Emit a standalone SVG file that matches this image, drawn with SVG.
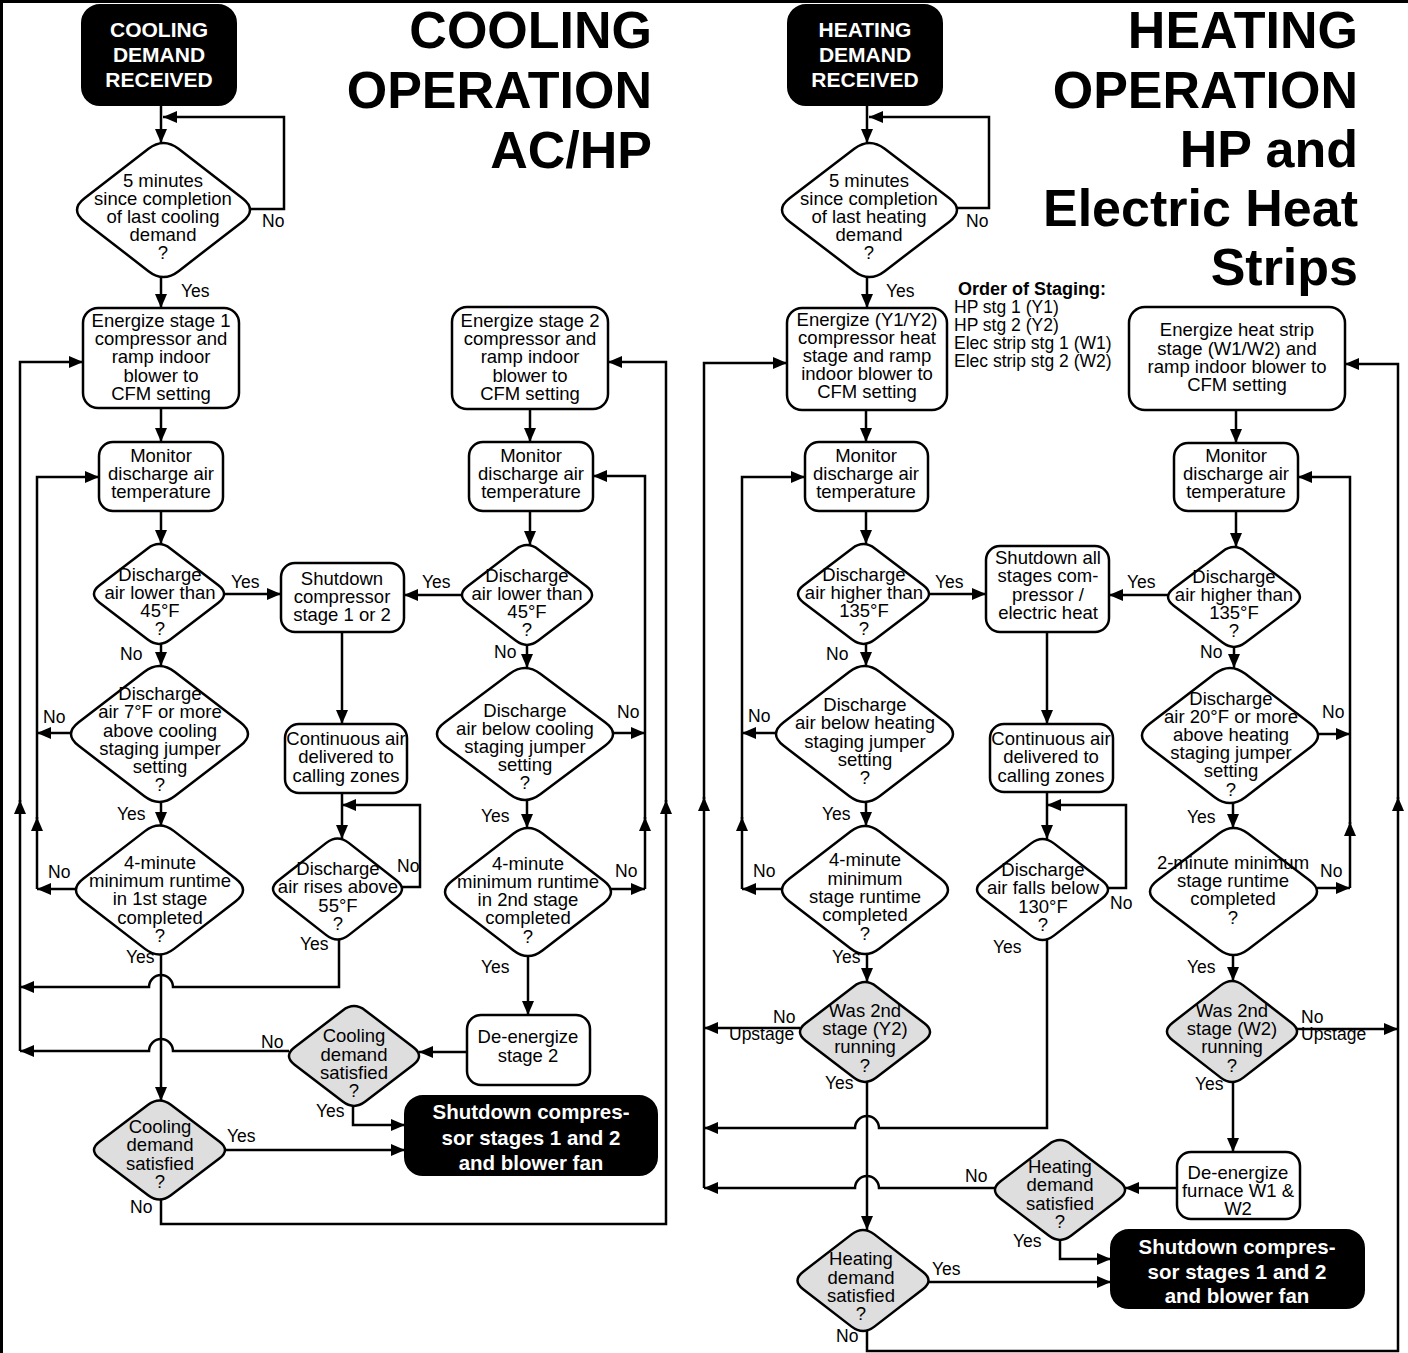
<svg xmlns="http://www.w3.org/2000/svg" xmlns:xlink="http://www.w3.org/1999/xlink" width="1408" height="1353" viewBox="0 0 1408 1353">
<style>
.n{fill:#fff;stroke:#000;stroke-width:2.5}
.g{fill:#dedede;stroke:#000;stroke-width:2.5}
.k{fill:#000;stroke:#000;stroke-width:2}
text{font-family:"Liberation Sans",Arial,Helvetica,sans-serif;fill:#000}
.t{font-size:18.5px;text-anchor:middle}
.w{font-size:20.5px;font-weight:bold;text-anchor:middle;fill:#fff}
.s{font-size:21px;font-weight:bold;text-anchor:middle;fill:#fff}
.l{font-size:17.5px}
.h{font-size:52px;font-weight:bold;text-anchor:end}
.os{font-size:17.5px}
.c{fill:none;stroke:#000;stroke-width:2.5;marker-end:url(#ah)}
</style>
<defs>
<marker id="ah" markerUnits="userSpaceOnUse" markerWidth="14" markerHeight="12" viewBox="0 0 14 12" refX="14" refY="6" orient="auto"><path d="M0,0 L14,6 L0,12 z" fill="#000"/></marker>
<path id="dm" vector-effect="non-scaling-stroke" d="M0.16,-0.84 L0.84,-0.16 Q1,0 0.84,0.16 L0.16,0.84 Q0,1 -0.16,0.84 L-0.84,0.16 Q-1,0 -0.84,-0.16 L-0.16,-0.84 Q0,-1 0.16,-0.84 Z"/>
</defs>
<rect width="1408" height="1353" fill="#fff"/>
<path d="M1.5,1353 V1.5 H1408" fill="none" stroke="#000" stroke-width="3"/>

<!-- Titles -->
<g id="title-cooling">
<text class="h" x="652" y="48">COOLING</text>
<text class="h" x="652" y="108">OPERATION</text>
<text class="h" x="652" y="168">AC/HP</text>
</g>
<g id="title-heating">
<text class="h" x="1358" y="48">HEATING</text>
<text class="h" x="1358" y="108">OPERATION</text>
<text class="h" x="1358" y="167">HP and</text>
<text class="h" x="1358" y="226">Electric Heat</text>
<text class="h" x="1358" y="285">Strips</text>
</g>
<g id="staging-note">
<text class="os" x="958" y="295" font-weight="bold" font-size="18px" style="font-size:18px">Order of Staging:</text>
<text class="os" x="954" y="313">HP stg 1 (Y1)</text>
<text class="os" x="954" y="331">HP stg 2 (Y2)</text>
<text class="os" x="954" y="349">Elec strip stg 1 (W1)</text>
<text class="os" x="954" y="367">Elec strip stg 2 (W2)</text>
</g>

<!-- Connectors -->
<g id="connectors">
<!-- cooling -->
<path class="c" d="M161,105 V143"/>
<path class="c" d="M249,209 H284 V117 H163"/>
<path class="c" d="M161,277 V308"/>
<path class="c" d="M161,408 V442"/>
<path class="c" d="M161,511 V544"/>
<path class="c" d="M225,594 H281"/>
<path class="c" d="M161,644 V666"/>
<path class="c" d="M71,733 H37"/>
<path class="c" d="M161,802 V826"/>
<path class="c" d="M76,889 H37"/>
<path class="c" d="M37,889 V817"/>
<path class="c" d="M37,819 V477 H99"/>
<path class="c" d="M161,955 V1101"/>
<path class="c" d="M339,940 V987 H173 A12,12 0 0 0 149,987 H20"/>
<path class="c" d="M289,1051 H173 A12,12 0 0 0 149,1051 H20"/>
<path class="c" d="M20,1051 V800"/>
<path class="c" d="M20,802 V362 H83"/>
<path class="c" d="M225,1150 H405"/>
<path class="c" d="M161,1200 V1224 H666 V800"/>
<path class="c" d="M666,802 V362 H608"/>
<path class="c" d="M342,632 V724"/>
<path class="c" d="M342,793 V839"/>
<path class="c" d="M402,887 H420 V805 H342"/>
<path class="c" d="M530,409 V442"/>
<path class="c" d="M530,511 V545"/>
<path class="c" d="M462,595 H404"/>
<path class="c" d="M527,645 V668"/>
<path class="c" d="M613,733 H645"/>
<path class="c" d="M527,800 V828"/>
<path class="c" d="M611,889 H645"/>
<path class="c" d="M645,889 V817"/>
<path class="c" d="M645,819 V476 H593"/>
<path class="c" d="M528,956 V1015"/>
<path class="c" d="M467,1052 H419"/>
<path class="c" d="M353,1106 V1125 H405"/>
<!-- heating -->
<path class="c" d="M867,105 V143"/>
<path class="c" d="M957,208 H989 V117 H869"/>
<path class="c" d="M867,277 V308"/>
<path class="c" d="M866,410 V442"/>
<path class="c" d="M866,511 V544"/>
<path class="c" d="M929,594 H986"/>
<path class="c" d="M866,643 V666"/>
<path class="c" d="M776,733 H742"/>
<path class="c" d="M866,802 V826"/>
<path class="c" d="M782,889 H742"/>
<path class="c" d="M742,889 V817"/>
<path class="c" d="M742,819 V477 H805"/>
<path class="c" d="M867,954 V982"/>
<path class="c" d="M800,1028 H704"/>
<path class="c" d="M867,1082 V1230"/>
<path class="c" d="M1047,940 V1128 H879 A12,12 0 0 0 855,1128 H704"/>
<path class="c" d="M995,1188 H879 A12,12 0 0 0 855,1188 H704"/>
<path class="c" d="M704,1188 V797"/>
<path class="c" d="M704,799 V363 H787"/>
<path class="c" d="M1047,632 V724"/>
<path class="c" d="M1047,792 V839"/>
<path class="c" d="M1108,888 H1126 V805 H1047"/>
<path class="c" d="M1060,1240 V1259 H1111"/>
<path class="c" d="M928,1282 H1111"/>
<path class="c" d="M867,1331 V1351 H1398 V797"/>
<path class="c" d="M1398,799 V364 H1345"/>
<path class="c" d="M1236,410 V443"/>
<path class="c" d="M1236,511 V547"/>
<path class="c" d="M1168,595 H1109"/>
<path class="c" d="M1234,647 V668"/>
<path class="c" d="M1318,734 H1350"/>
<path class="c" d="M1233,803 V828"/>
<path class="c" d="M1317,888 H1350"/>
<path class="c" d="M1350,888 V822"/>
<path class="c" d="M1350,824 V477 H1298"/>
<path class="c" d="M1233,955 V981"/>
<path class="c" d="M1297,1029 H1398"/>
<path class="c" d="M1233,1082 V1152"/>
<path class="c" d="M1177,1188 H1125"/>
</g>

<!-- Connector labels -->
<g id="labels" class="l">
<text x="262" y="227">No</text>
<text x="181" y="297">Yes</text>
<text x="231" y="588">Yes</text>
<text x="120" y="660">No</text>
<text x="43" y="723">No</text>
<text x="117" y="820">Yes</text>
<text x="48" y="878">No</text>
<text x="126" y="963">Yes</text>
<text x="422" y="588">Yes</text>
<text x="494" y="658">No</text>
<text x="617" y="718">No</text>
<text x="481" y="822">Yes</text>
<text x="615" y="877">No</text>
<text x="481" y="973">Yes</text>
<text x="397" y="872">No</text>
<text x="300" y="950">Yes</text>
<text x="261" y="1048">No</text>
<text x="316" y="1117">Yes</text>
<text x="227" y="1142">Yes</text>
<text x="130" y="1213">No</text>

<text x="966" y="227">No</text>
<text x="886" y="297">Yes</text>
<text x="935" y="588">Yes</text>
<text x="826" y="660">No</text>
<text x="748" y="722">No</text>
<text x="822" y="820">Yes</text>
<text x="753" y="877">No</text>
<text x="832" y="963">Yes</text>
<text x="773" y="1023">No</text>
<text x="729" y="1040">Upstage</text>
<text x="825" y="1089">Yes</text>
<text x="993" y="953">Yes</text>
<text x="1110" y="909">No</text>
<text x="965" y="1182">No</text>
<text x="1013" y="1247">Yes</text>
<text x="932" y="1275">Yes</text>
<text x="836" y="1342">No</text>
<text x="1127" y="588">Yes</text>
<text x="1200" y="658">No</text>
<text x="1322" y="718">No</text>
<text x="1187" y="823">Yes</text>
<text x="1320" y="877">No</text>
<text x="1187" y="973">Yes</text>
<text x="1301" y="1023">No</text>
<text x="1301" y="1040">Upstage</text>
<text x="1195" y="1090">Yes</text>
</g>

<!-- Cooling nodes -->
<g id="c-start">
<rect class="k" x="82" y="5" width="154" height="100" rx="18"/>
<text class="s" x="159" y="37">COOLING</text>
<text class="s" x="159" y="62">DEMAND</text>
<text class="s" x="159" y="87">RECEIVED</text>
</g>
<g id="c-wait">
<use href="#dm" class="n" transform="translate(163.5 210) scale(94 72.8)"/>
<text class="t" x="163" y="187">5 minutes</text>
<text class="t" x="163" y="205">since completion</text>
<text class="t" x="163" y="223">of last cooling</text>
<text class="t" x="163" y="241">demand</text>
<text class="t" x="163" y="259">?</text>
</g>
<g id="c-energize1">
<rect class="n" x="83" y="308" width="156" height="100" rx="15"/>
<text class="t" x="161" y="327">Energize stage 1</text>
<text class="t" x="161" y="345">compressor and</text>
<text class="t" x="161" y="363">ramp indoor</text>
<text class="t" x="161" y="382">blower to</text>
<text class="t" x="161" y="400">CFM setting</text>
</g>
<g id="c-monitor1">
<rect class="n" x="99" y="442" width="124" height="69" rx="14"/>
<text class="t" x="161" y="462">Monitor</text>
<text class="t" x="161" y="480">discharge air</text>
<text class="t" x="161" y="498">temperature</text>
</g>
<g id="c-low1">
<use href="#dm" class="n" transform="translate(159 594) scale(70.7 54.3)"/>
<text class="t" x="160" y="581">Discharge</text>
<text class="t" x="160" y="599">air lower than</text>
<text class="t" x="160" y="617">45°F</text>
<text class="t" x="160" y="635">?</text>
</g>
<g id="c-7f">
<use href="#dm" class="n" transform="translate(159.5 734) scale(96.2 73.9)"/>
<text class="t" x="160" y="700">Discharge</text>
<text class="t" x="160" y="718">air 7°F or more</text>
<text class="t" x="160" y="737">above cooling</text>
<text class="t" x="160" y="755">staging jumper</text>
<text class="t" x="160" y="773">setting</text>
<text class="t" x="160" y="791">?</text>
</g>
<g id="c-4min1">
<use href="#dm" class="n" transform="translate(159.5 890) scale(90.8 70.1)"/>
<text class="t" x="160" y="869">4-minute</text>
<text class="t" x="160" y="887">minimum runtime</text>
<text class="t" x="160" y="905">in 1st stage</text>
<text class="t" x="160" y="924">completed</text>
<text class="t" x="160" y="942">?</text>
</g>
<g id="c-satisfied1">
<use href="#dm" class="g" transform="translate(159.5 1150) scale(71.2 53.8)"/>
<text class="t" x="160" y="1133">Cooling</text>
<text class="t" x="160" y="1151">demand</text>
<text class="t" x="160" y="1170">satisfied</text>
<text class="t" x="160" y="1188">?</text>
</g>
<g id="c-shutdown">
<rect class="n" x="281" y="563" width="123" height="69" rx="14"/>
<text class="t" x="342" y="585">Shutdown</text>
<text class="t" x="342" y="603">compressor</text>
<text class="t" x="342" y="621">stage 1 or 2</text>
</g>
<g id="c-continuous">
<rect class="n" x="285" y="724" width="122" height="69" rx="14"/>
<text class="t" x="346" y="745">Continuous air</text>
<text class="t" x="346" y="763">delivered to</text>
<text class="t" x="346" y="782">calling zones</text>
</g>
<g id="c-55f">
<use href="#dm" class="n" transform="translate(337.5 889) scale(70.1 54.9)"/>
<text class="t" x="338" y="875">Discharge</text>
<text class="t" x="338" y="893">air rises above</text>
<text class="t" x="338" y="912">55°F</text>
<text class="t" x="338" y="930">?</text>
</g>
<g id="c-satisfied2">
<use href="#dm" class="g" transform="translate(354 1056) scale(70.7 54.3)"/>
<text class="t" x="354" y="1042">Cooling</text>
<text class="t" x="354" y="1061">demand</text>
<text class="t" x="354" y="1079">satisfied</text>
<text class="t" x="354" y="1097">?</text>
</g>
<g id="c-end">
<rect class="k" x="405" y="1096" width="252" height="79" rx="18"/>
<text class="w" x="531" y="1119">Shutdown compres-</text>
<text class="w" x="531" y="1145">sor stages 1 and 2</text>
<text class="w" x="531" y="1170">and blower fan</text>
</g>
<g id="c-energize2">
<rect class="n" x="452" y="307" width="156" height="102" rx="15"/>
<text class="t" x="530" y="327">Energize stage 2</text>
<text class="t" x="530" y="345">compressor and</text>
<text class="t" x="530" y="363">ramp indoor</text>
<text class="t" x="530" y="382">blower to</text>
<text class="t" x="530" y="400">CFM setting</text>
</g>
<g id="c-monitor2">
<rect class="n" x="469" y="442" width="124" height="69" rx="14"/>
<text class="t" x="531" y="462">Monitor</text>
<text class="t" x="531" y="480">discharge air</text>
<text class="t" x="531" y="498">temperature</text>
</g>
<g id="c-low2">
<use href="#dm" class="n" transform="translate(527 595) scale(70.7 54.3)"/>
<text class="t" x="527" y="582">Discharge</text>
<text class="t" x="527" y="600">air lower than</text>
<text class="t" x="527" y="618">45°F</text>
<text class="t" x="527" y="636">?</text>
</g>
<g id="c-below">
<use href="#dm" class="n" transform="translate(525 734) scale(95.7 71.7)"/>
<text class="t" x="525" y="717">Discharge</text>
<text class="t" x="525" y="735">air below cooling</text>
<text class="t" x="525" y="753">staging jumper</text>
<text class="t" x="525" y="771">setting</text>
<text class="t" x="525" y="789">?</text>
</g>
<g id="c-4min2">
<use href="#dm" class="n" transform="translate(528 892) scale(90.2 69.6)"/>
<text class="t" x="528" y="870">4-minute</text>
<text class="t" x="528" y="888">minimum runtime</text>
<text class="t" x="528" y="906">in 2nd stage</text>
<text class="t" x="528" y="924">completed</text>
<text class="t" x="528" y="943">?</text>
</g>
<g id="c-deenergize">
<rect class="n" x="467" y="1015" width="123" height="70" rx="14"/>
<text class="t" x="528" y="1043">De-energize</text>
<text class="t" x="528" y="1062">stage 2</text>
</g>

<!-- Heating nodes -->
<g id="h-start">
<rect class="k" x="788" y="5" width="154" height="100" rx="18"/>
<text class="s" x="865" y="37">HEATING</text>
<text class="s" x="865" y="62">DEMAND</text>
<text class="s" x="865" y="87">RECEIVED</text>
</g>
<g id="h-wait">
<use href="#dm" class="n" transform="translate(869.5 210) scale(95.1 72.8)"/>
<text class="t" x="869" y="187">5 minutes</text>
<text class="t" x="869" y="205">since completion</text>
<text class="t" x="869" y="223">of last heating</text>
<text class="t" x="869" y="241">demand</text>
<text class="t" x="869" y="259">?</text>
</g>
<g id="h-energize1">
<rect class="n" x="787" y="308" width="160" height="102" rx="15"/>
<text class="t" x="867" y="326">Energize (Y1/Y2)</text>
<text class="t" x="867" y="344">compressor heat</text>
<text class="t" x="867" y="362">stage and ramp</text>
<text class="t" x="867" y="380">indoor blower to</text>
<text class="t" x="867" y="398">CFM setting</text>
</g>
<g id="h-monitor1">
<rect class="n" x="805" y="442" width="123" height="69" rx="14"/>
<text class="t" x="866" y="462">Monitor</text>
<text class="t" x="866" y="480">discharge air</text>
<text class="t" x="866" y="498">temperature</text>
</g>
<g id="h-high1">
<use href="#dm" class="n" transform="translate(863.5 594) scale(71.2 54.3)"/>
<text class="t" x="864" y="581">Discharge</text>
<text class="t" x="864" y="599">air higher than</text>
<text class="t" x="864" y="617">135°F</text>
<text class="t" x="864" y="635">?</text>
</g>
<g id="h-below">
<use href="#dm" class="n" transform="translate(864.5 734) scale(96.2 73.9)"/>
<text class="t" x="865" y="711">Discharge</text>
<text class="t" x="865" y="729">air below heating</text>
<text class="t" x="865" y="748">staging jumper</text>
<text class="t" x="865" y="766">setting</text>
<text class="t" x="865" y="784">?</text>
</g>
<g id="h-4min">
<use href="#dm" class="n" transform="translate(865 890) scale(90.2 69.6)"/>
<text class="t" x="865" y="866">4-minute</text>
<text class="t" x="865" y="885">minimum</text>
<text class="t" x="865" y="903">stage runtime</text>
<text class="t" x="865" y="921">completed</text>
<text class="t" x="865" y="940">?</text>
</g>
<g id="h-y2">
<use href="#dm" class="g" transform="translate(865 1032) scale(70.7 54.3)"/>
<text class="t" x="865" y="1017">Was 2nd</text>
<text class="t" x="865" y="1035">stage (Y2)</text>
<text class="t" x="865" y="1053">running</text>
<text class="t" x="865" y="1072">?</text>
</g>
<g id="h-shutdown">
<rect class="n" x="986" y="546" width="123" height="86" rx="14"/>
<text class="t" x="1048" y="564">Shutdown all</text>
<text class="t" x="1048" y="582">stages com-</text>
<text class="t" x="1048" y="601">pressor /</text>
<text class="t" x="1048" y="619">electric heat</text>
</g>
<g id="h-continuous">
<rect class="n" x="990" y="724" width="123" height="68" rx="14"/>
<text class="t" x="1051" y="745">Continuous air</text>
<text class="t" x="1051" y="763">delivered to</text>
<text class="t" x="1051" y="782">calling zones</text>
</g>
<g id="h-130f">
<use href="#dm" class="n" transform="translate(1042.5 889.5) scale(71.2 54.9)"/>
<text class="t" x="1043" y="876">Discharge</text>
<text class="t" x="1043" y="894">air falls below</text>
<text class="t" x="1043" y="913">130°F</text>
<text class="t" x="1043" y="931">?</text>
</g>
<g id="h-satisfied2">
<use href="#dm" class="g" transform="translate(1060 1190) scale(70.7 54.3)"/>
<text class="t" x="1060" y="1173">Heating</text>
<text class="t" x="1060" y="1191">demand</text>
<text class="t" x="1060" y="1210">satisfied</text>
<text class="t" x="1060" y="1228">?</text>
</g>
<g id="h-satisfied1">
<use href="#dm" class="g" transform="translate(863 1280.5) scale(71.2 54.9)"/>
<text class="t" x="861" y="1265">Heating</text>
<text class="t" x="861" y="1284">demand</text>
<text class="t" x="861" y="1302">satisfied</text>
<text class="t" x="861" y="1320">?</text>
</g>
<g id="h-end">
<rect class="k" x="1111" y="1230" width="253" height="78" rx="18"/>
<text class="w" x="1237" y="1254">Shutdown compres-</text>
<text class="w" x="1237" y="1279">sor stages 1 and 2</text>
<text class="w" x="1237" y="1303">and blower fan</text>
</g>
<g id="h-energize2">
<rect class="n" x="1129" y="307" width="216" height="103" rx="16"/>
<text class="t" x="1237" y="336">Energize heat strip</text>
<text class="t" x="1237" y="355">stage (W1/W2) and</text>
<text class="t" x="1237" y="373">ramp indoor blower to</text>
<text class="t" x="1237" y="391">CFM setting</text>
</g>
<g id="h-monitor2">
<rect class="n" x="1174" y="443" width="124" height="68" rx="14"/>
<text class="t" x="1236" y="462">Monitor</text>
<text class="t" x="1236" y="480">discharge air</text>
<text class="t" x="1236" y="498">temperature</text>
</g>
<g id="h-high2">
<use href="#dm" class="n" transform="translate(1234 597) scale(71.7 54.3)"/>
<text class="t" x="1234" y="583">Discharge</text>
<text class="t" x="1234" y="601">air higher than</text>
<text class="t" x="1234" y="619">135°F</text>
<text class="t" x="1234" y="637">?</text>
</g>
<g id="h-20f">
<use href="#dm" class="n" transform="translate(1230 735.5) scale(95.7 73.4)"/>
<text class="t" x="1231" y="705">Discharge</text>
<text class="t" x="1231" y="723">air 20°F or more</text>
<text class="t" x="1231" y="741">above heating</text>
<text class="t" x="1231" y="759">staging jumper</text>
<text class="t" x="1231" y="777">setting</text>
<text class="t" x="1231" y="796">?</text>
</g>
<g id="h-2min">
<use href="#dm" class="n" transform="translate(1233.5 891.5) scale(90.8 69)"/>
<text class="t" x="1233" y="869">2-minute minimum</text>
<text class="t" x="1233" y="887">stage runtime</text>
<text class="t" x="1233" y="905">completed</text>
<text class="t" x="1233" y="924">?</text>
</g>
<g id="h-w2">
<use href="#dm" class="g" transform="translate(1232 1031.5) scale(70.7 54.9)"/>
<text class="t" x="1232" y="1017">Was 2nd</text>
<text class="t" x="1232" y="1035">stage (W2)</text>
<text class="t" x="1232" y="1053">running</text>
<text class="t" x="1232" y="1072">?</text>
</g>
<g id="h-deenergize">
<rect class="n" x="1177" y="1152" width="123" height="67" rx="14"/>
<text class="t" x="1238" y="1179">De-energize</text>
<text class="t" x="1238" y="1197">furnace W1 &amp;</text>
<text class="t" x="1238" y="1215">W2</text>
</g>
</svg>
